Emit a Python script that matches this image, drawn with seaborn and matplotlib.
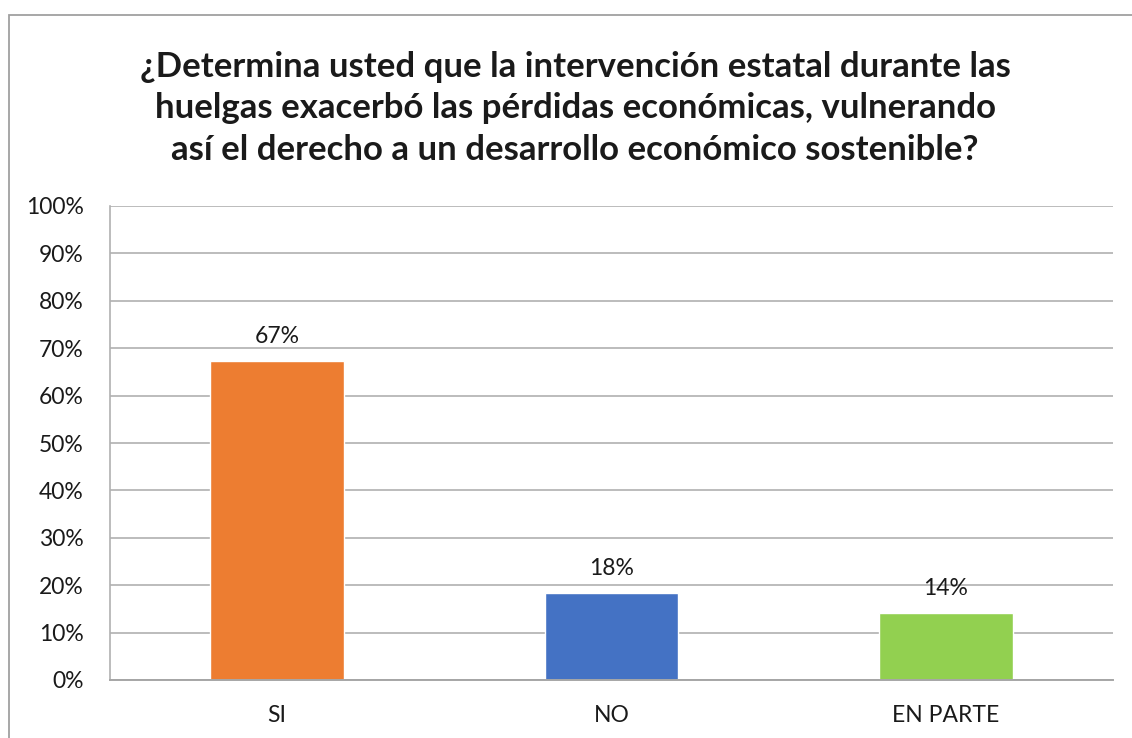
import matplotlib
matplotlib.use("Agg")
import matplotlib.pyplot as plt
import seaborn as sns
import pandas as pd
from matplotlib.patches import Rectangle
from matplotlib.ticker import FuncFormatter

categories = ["SI", "NO", "EN PARTE"]
values = [0.674, 0.184, 0.141]
labels = ["67%", "18%", "14%"]
colors = ["#ED7D31", "#4472C4", "#92D050"]
title = ("¿Determina usted que la intervención estatal durante las\n"
         "huelgas exacerbó las pérdidas económicas, vulnerando\n"
         "así el derecho a un desarrollo económico sostenible?")

sns.set_theme(style="white")
plt.rcParams['font.family'] = ['Lato', 'DejaVu Sans']

df = pd.DataFrame({"cat": categories, "val": values})

fig = plt.figure(figsize=(11.32, 7.38), dpi=100)
fig.patch.set_facecolor("white")
ax = fig.add_axes([110/1132, 58/738, 1003/1132, 474/738])

sns.barplot(data=df, x="cat", y="val", hue="cat", palette=colors,
            width=0.4, legend=False, ax=ax, saturation=1)

ax.set_ylim(0, 1.0)
ax.set_xlim(-0.5, 2.5)
ax.set_yticks([i/10 for i in range(11)])
ax.yaxis.set_major_formatter(FuncFormatter(lambda v, p: f"{round(v*100)}%"))
ax.grid(axis="y", color="#B0B0B0", linewidth=1.2)
ax.set_axisbelow(True)
ax.set_xlabel("")
ax.set_ylabel("")
for s in ["top", "right"]:
    ax.spines[s].set_visible(False)
ax.spines["left"].set_color("#B0B0B0")
ax.spines["left"].set_linewidth(1.2)
ax.spines["bottom"].set_color("#A6A6A6")
ax.spines["bottom"].set_linewidth(1.4)
ax.tick_params(axis="both", length=0, labelsize=16.5, colors="#1a1a1a")
ax.tick_params(axis="y", pad=19)
ax.tick_params(axis="x", pad=18)

for i, (v, l) in enumerate(zip(values, labels)):
    ax.annotate(l, (i, v), xytext=(0, 10), textcoords="offset points",
                ha="center", va="bottom", fontsize=16.5, color="#1a1a1a")

fig.text(0.508, 0.853, title, ha="center", va="center", fontsize=25,
         fontweight="bold", color="#1a1a1a", linespacing=1.38)

fig.patches.append(Rectangle((9/1132, -0.05), 1.2, 0.05 + (738-15)/738,
                             transform=fig.transFigure, fill=False,
                             edgecolor="#A0A0A0", linewidth=1.3))

fig.savefig("out.png", dpi=100)
